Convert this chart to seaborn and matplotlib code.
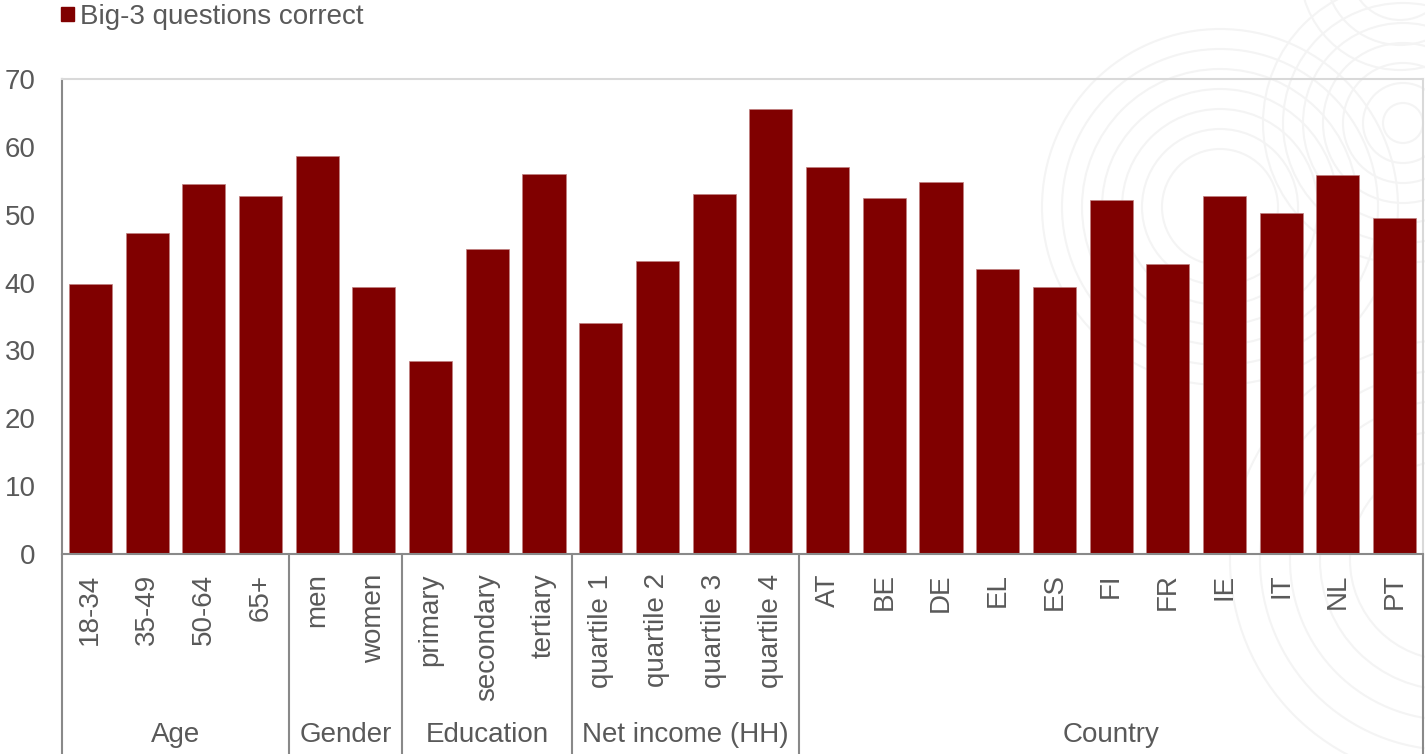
import matplotlib
matplotlib.use("Agg")
import matplotlib.pyplot as plt
import seaborn as sns
import pandas as pd
from matplotlib.patches import Patch, Circle

# data
categories = ["18-34", "35-49", "50-64", "65+",
              "men", "women",
              "primary", "secondary", "tertiary",
              "quartile 1", "quartile 2", "quartile 3", "quartile 4",
              "AT", "BE", "DE", "EL", "ES", "FI", "FR", "IE", "IT", "NL", "PT"]
values = [39.8, 47.3, 54.5, 52.8,
          58.6, 39.3,
          28.4, 44.9, 56.0,
          34.0, 43.2, 53.0, 65.6,
          57.1, 52.4, 54.8, 42.0, 39.4, 52.2, 42.8, 52.8, 50.3, 55.9, 49.5]
groups = ["Age", "Gender", "Education", "Net income (HH)", "Country"]
group_sizes = [4, 2, 3, 4, 11]
series_name = "Big-3 questions correct"

df = pd.DataFrame({"category": categories, "value": values})

bar_col = "#800000"
txt_col = "#595959"
axis_col = "#898989"
fs = 20

sns.set_theme(style="white")
plt.rcParams["font.family"] = ["Liberation Sans", "DejaVu Sans"]
plt.rcParams["font.size"] = fs

fig = plt.figure(figsize=(14.25, 7.54), dpi=100)

# faint watermark circles in the background
bg = fig.add_axes([0, 0, 1, 1], zorder=-1)
bg.set_xlim(0, 1425)
bg.set_ylim(754, 0)
bg.axis("off")
ring = dict(fill=False, ec="#f4f4f4", lw=1.5)
for r in range(58, 179, 20):
    bg.add_patch(Circle((1220, 207), r, **ring))
for r in range(20, 141, 20):
    bg.add_patch(Circle((1403, 123), r, **ring))
for r in range(100, 221, 30):
    bg.add_patch(Circle((1450, 560), r, **ring))
for r in [50, 75, 100]:
    bg.add_patch(Circle((1400, -30), r, **ring))

ax = fig.add_axes([62 / 1425, 1 - 554 / 754, (1423 - 62) / 1425, 475 / 754])
ax.patch.set_alpha(0)

sns.barplot(data=df, x="category", y="value", color=bar_col, width=0.76,
            saturation=1, ax=ax, edgecolor="#c08080", linewidth=0.5)

ax.set_xlim(-0.5, len(categories) - 0.5)
ax.set_ylim(0, 70)
ax.set_yticks(range(0, 71, 10))
ax.set_xlabel("")
ax.set_ylabel("")

ax.tick_params(axis="y", direction="in", length=7, width=1.2, color=axis_col,
               labelcolor=txt_col, labelsize=fs, pad=19)
ax.tick_params(axis="x", length=0, labelcolor=txt_col, labelsize=fs, pad=14)
ax.set_xticks(range(len(categories)))
ax.set_xticklabels(categories, rotation=90, va="top")

for side in ["top", "right"]:
    ax.spines[side].set_color("#d9d9d9")
    ax.spines[side].set_linewidth(1.5)
for side in ["left", "bottom"]:
    ax.spines[side].set_color(axis_col)
    ax.spines[side].set_linewidth(1.5)

# group separators and group labels below the axis
trans = ax.get_xaxis_transform()
y_bottom = -200 / 475
start = 0
bounds = [-0.5]
for name, n in zip(groups, group_sizes):
    mid = start + (n - 1) / 2
    ax.text(mid, -181 / 475, name, transform=trans, ha="center", va="center",
            color=txt_col, fontsize=fs)
    start += n
    bounds.append(start - 0.5)
for b in bounds:
    ax.plot([b, b], [0, y_bottom], transform=trans, color=axis_col, lw=1.5,
            clip_on=False)

fig.legend(handles=[Patch(color=bar_col, label=series_name)], loc="upper left",
           bbox_to_anchor=(36 / 1425, 1.028), frameon=False, fontsize=fs,
           handlelength=0.45, handleheight=0.45, handletextpad=0.25,
           labelcolor=txt_col)

fig.savefig("out.png", dpi=100)
